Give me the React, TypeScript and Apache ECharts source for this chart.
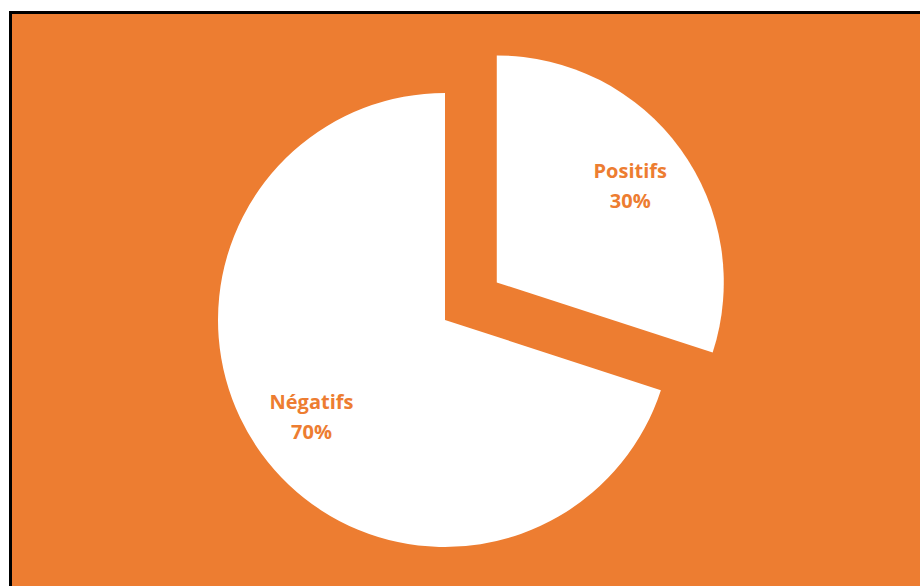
import React, { useEffect, useRef } from "react";
import * as echarts from "echarts";

const categories = ["Positifs", "Négatifs"];
const values = [30, 70];
const explodedCategory = "Positifs";

const ORANGE = "#ED7D31";

export default function App() {
  const ref = useRef<HTMLDivElement>(null);
  useEffect(() => {
    document.body.style.margin = "0";
    const chart = echarts.init(ref.current!, null, { renderer: "svg" });
    const data = categories.map((name, i) => ({
      name,
      value: values[i],
      selected: name === explodedCategory,
    }));
    chart.setOption({
      animation: false,
      backgroundColor: "#ffffff",
      graphic: [
        {
          type: "rect",
          z: -10,
          silent: true,
          shape: { x: 10.5, y: 12.5, width: 1000, height: 1000 },
          style: { fill: ORANGE, stroke: "#000000", lineWidth: 3 },
        },
      ],
      series: [
        {
          type: "pie",
          center: [445, 320],
          radius: [0, 227],
          startAngle: 90,
          clockwise: true,
          selectedMode: "single",
          selectedOffset: 64,
          silent: true,
          itemStyle: { color: "#ffffff", borderWidth: 0 },
          label: { show: false },
          labelLine: { show: false },
          emphasis: { disabled: true },
          data,
        },
        {
          type: "pie",
          center: [445, 320],
          radius: [100, 224],
          startAngle: 90,
          clockwise: true,
          selectedMode: "single",
          selectedOffset: 64,
          silent: true,
          itemStyle: { color: "rgba(0,0,0,0)", borderWidth: 0 },
          label: {
            show: true,
            position: "inside",
            formatter: (p: any) => `${p.name}\n${p.percent.toFixed(0)}%`,
            color: ORANGE,
            fontFamily: "Open Sans",
            fontWeight: "bold",
            fontSize: 20,
            lineHeight: 30,
            align: "center",
          },
          labelLine: { show: false },
          emphasis: { disabled: true },
          data,
        },
      ],
    });
    return () => chart.dispose();
  }, []);
  return (
    <div
      ref={ref}
      style={{ position: "absolute", left: 0, top: 0, width: 920, height: 586 }}
    />
  );
}
